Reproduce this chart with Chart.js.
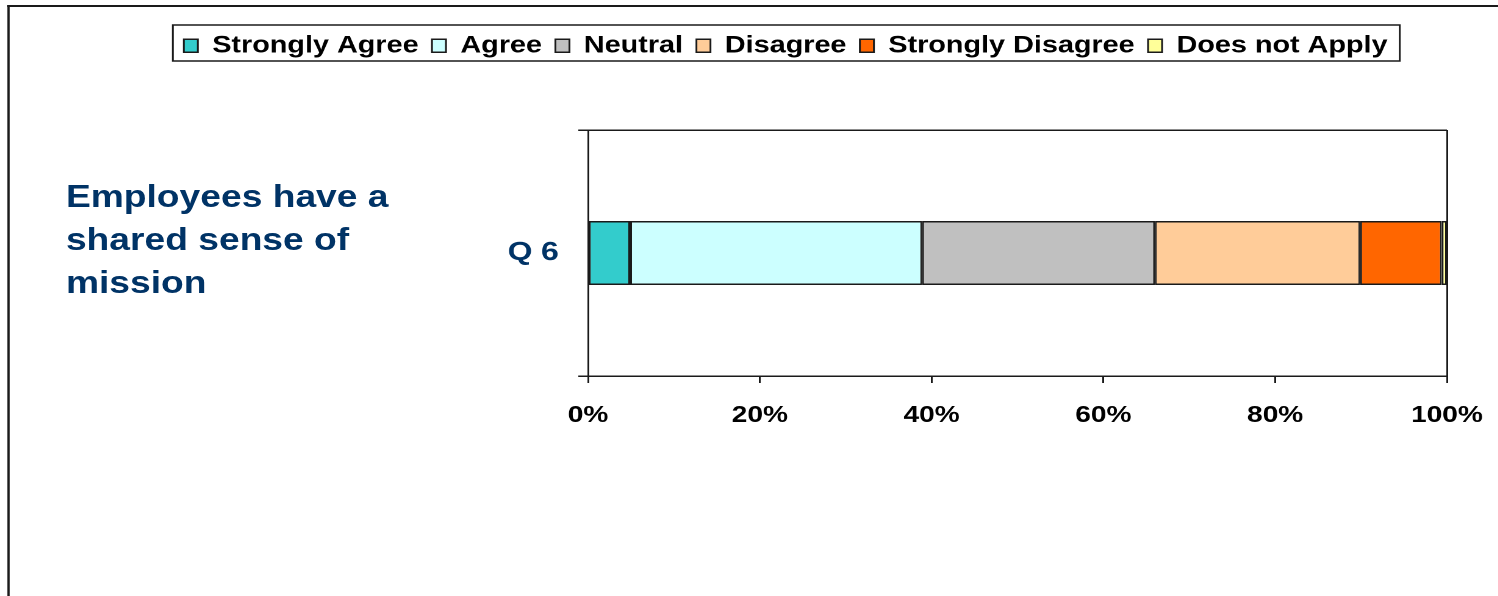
<!DOCTYPE html>
<html>
<head>
<meta charset="utf-8">
<script src="https://cdn.jsdelivr.net/npm/chart.js@4"></script>
<style>
  body { margin: 0; background: #fff; overflow: hidden; }
  /* the original picture is stretched sideways, so the whole stage is too */
  #stage { position: absolute; left: 0; top: 0; width: 1228px; height: 596px; transform-origin: 0 0; transform: scaleX(1.22); }
  #frame { position: absolute; left: 6px; top: 5px; width: 1300px; height: 640px; border-left: 2px solid #1a1a1a; border-top: 2px solid #1a1a1a; }
  #question { position: absolute; left: 54px; top: 175px; font: bold 30.5px Arial, "Liberation Sans", sans-serif; line-height: 43px; color: #003366; }
  #wrap { position: absolute; left: 102px; top: 0; width: 1134px; height: 440px; }
</style>
</head>
<body>
<div id="stage">
  <div id="frame"></div>
  <div id="question">Employees have a<br>shared sense of<br>mission</div>
  <div id="wrap"><canvas id="chart1"></canvas></div>
</div>
<script>
//----------------- chart data -------------------------
const categories = ["Q 6"];
const seriesNames = ["Strongly Agree", "Agree", "Neutral", "Disagree", "Strongly Disagree", "Does not Apply"];
const stronglyAgree = [4.9];
const agree = [34.0];
const neutral = [27.1];
const disagree = [23.9];
const stronglyDisagree = [9.5];
const doesNotApply = [0.6];
const seriesColors = ["#33CCCC", "#CCFFFF", "#C0C0C0", "#FFCC99", "#FF6600", "#FFFF99"];
const xTicks = [0, 20, 40, 60, 80, 100];

const FONT = "Arial, 'Liberation Sans', sans-serif";
const LINE = "#1a1a1a";

const seriesValues = [stronglyAgree, agree, neutral, disagree, stronglyDisagree, doesNotApply];

const datasets = seriesNames.map((name, i) => ({
    label: name,
    data: seriesValues[i],
    backgroundColor: seriesColors[i],
    borderColor: LINE,
    borderWidth: 1.5,
    borderSkipped: false,
    barPercentage: 1,
    categoryPercentage: 0.26
}));

//----------------- legend height + border -------------------------
const legendFrame = {
    id: "legendFrame",
    beforeLayout(chart) {
        const legend = chart.legend;
        if (legend && !legend._fixed) {
            const fit = legend.fit;
            legend.fit = function () {
                fit.call(this);
                this.height = 107;
            };
            legend._fixed = true;
        }
    },
    afterDraw(chart) {
        const boxes = chart.legend.legendHitBoxes;
        if (!boxes || !boxes.length) return;
        const left = boxes[0].left - 9;
        const last = boxes[boxes.length - 1];
        const right = last.left + last.width + 10;
        const ctx = chart.ctx;
        ctx.save();
        ctx.strokeStyle = LINE;
        ctx.lineWidth = 1.5;
        ctx.strokeRect(left, 25, right - left, 36);
        ctx.restore();
    }
};

new Chart(document.getElementById("chart1").getContext("2d"), {
    type: "bar",
    data: { labels: categories, datasets: datasets },
    plugins: [legendFrame],
    options: {
        indexAxis: "y",
        responsive: true,
        maintainAspectRatio: false,
        devicePixelRatio: 2,
        animation: false,
        layout: { padding: { left: 0, right: 50, top: 23, bottom: 0 } },
        plugins: {
            tooltip: { enabled: false },
            legend: {
                position: "top",
                labels: {
                    color: "#000",
                    font: { family: FONT, size: 23.6, weight: "bold" },
                    boxWidth: 11.5,
                    boxHeight: 13,
                    padding: 11
                }
            }
        },
        scales: {
            x: {
                stacked: true,
                min: 0,
                max: 100,
                afterFit(scale) { scale.height = 64; },
                afterBuildTicks(scale) { scale.ticks = xTicks.map(v => ({ value: v })); },
                ticks: {
                    color: "#000",
                    padding: 19,
                    font: { family: FONT, size: 23, weight: "bold" },
                    callback: v => v + "%"
                },
                grid: {
                    color: c => (c.tick && c.tick.value === 100 ? LINE : "rgba(0,0,0,0)"),
                    tickColor: LINE,
                    tickLength: 7,
                    lineWidth: 1.5
                },
                border: { display: true, color: LINE, width: 1.5 }
            },
            y: {
                stacked: true,
                afterFit(scale) { scale.width = 380; },
                ticks: {
                    color: "#003366",
                    padding: 16,
                    font: { family: FONT, size: 26, weight: "bold" }
                },
                grid: {
                    color: LINE,
                    tickColor: LINE,
                    tickLength: 8,
                    lineWidth: 1.5
                },
                border: { display: true, color: LINE, width: 1.5 }
            }
        }
    }
});
</script>
</body>
</html>
